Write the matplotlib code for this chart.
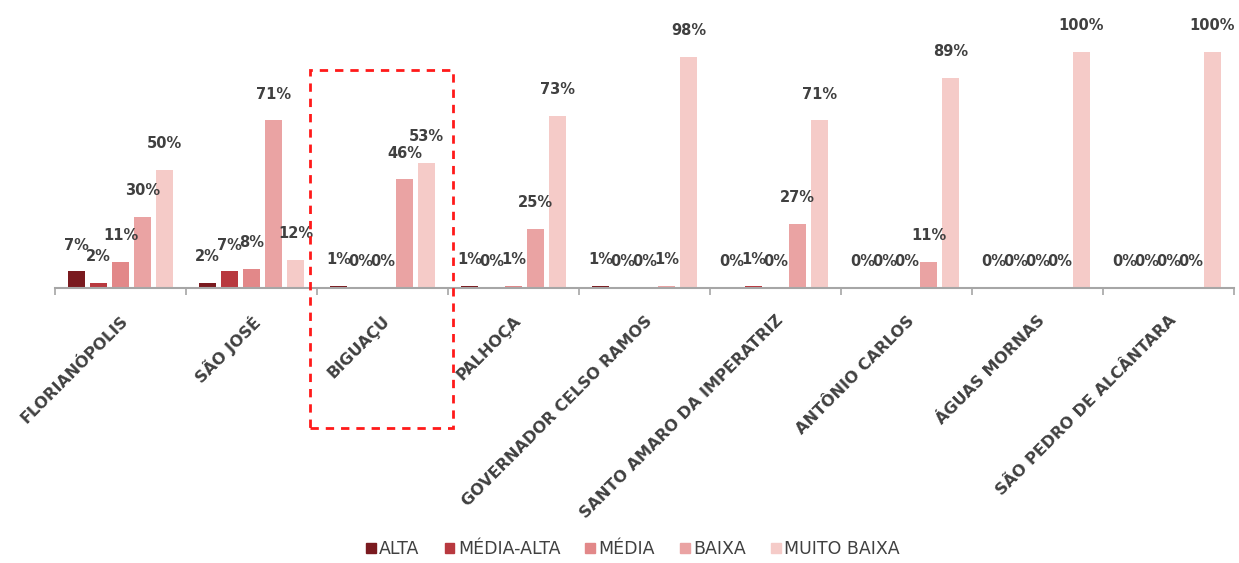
import matplotlib
matplotlib.use("Agg")
import matplotlib.pyplot as plt
import numpy as np
from matplotlib.patches import Rectangle

categories = ["FLORIANÓPOLIS", "SÃO JOSÉ", "BIGUAÇU", "PALHOÇA",
              "GOVERNADOR CELSO RAMOS", "SANTO AMARO DA IMPERATRIZ",
              "ANTÔNIO CARLOS", "ÁGUAS MORNAS", "SÃO PEDRO DE ALCÂNTARA"]
series_names = ["ALTA", "MÉDIA-ALTA", "MÉDIA", "BAIXA", "MUITO BAIXA"]
alta        = [7, 2, 1, 1, 1, 0, 0, 0, 0]
media_alta  = [2, 7, 0, 0, 0, 1, 0, 0, 0]
media       = [11, 8, 0, 1, 0, 0, 0, 0, 0]
baixa       = [30, 71, 46, 25, 1, 27, 11, 0, 0]
muito_baixa = [50, 12, 53, 73, 98, 71, 89, 100, 100]
series_values = [alta, media_alta, media, baixa, muito_baixa]
colors = ["#7a1a1f", "#b8393f", "#e28889", "#eaa3a3", "#f5cbc8"]

plt.rcParams['font.family'] = ['DejaVu Sans']

fig = plt.figure(figsize=(12.39, 5.63), dpi=100)
ax = fig.add_axes([55/1239, 1 - 288/563, (1234-55)/1239, 0.4611])

n = len(categories)
x = np.arange(n)
width = 0.13
step = 0.168
for i, (name, vals, col) in enumerate(zip(series_names, series_values, colors)):
    pos = x + (i - 2) * step
    ax.bar(pos, vals, width=width, color=col, label=name, zorder=2)
    for px, v in zip(pos, vals):
        ax.annotate(f"{v}%", (px, v), xytext=(0, 19), textcoords="offset points",
                    ha="center", va="center", fontsize=10.5, fontweight="bold",
                    color="#404040")

ax.set_xlim(-0.5, n - 0.5)
ax.set_ylim(0, 110)
ax.set_yticks([])
for s in ["left", "right", "top"]:
    ax.spines[s].set_visible(False)
ax.spines["bottom"].set_color("#a6a6a6")
ax.spines["bottom"].set_linewidth(1.5)

ax.set_xticks(x)
ax.set_xticklabels(categories, rotation=45, ha="right", rotation_mode="anchor",
                   fontsize=11.5, fontweight="bold", color="#404040")
ax.tick_params(axis="x", which="major", length=0, pad=18)
ax.set_xticks(np.arange(-0.5, n, 1.0), minor=True)
ax.tick_params(axis="x", which="minor", length=5, color="#a6a6a6", width=1.2)

handles = [Rectangle((0, 0), 1, 1, color=c) for c in colors]
fig.legend(handles, series_names, loc="center", bbox_to_anchor=(633/1239, 1 - 549/563),
           ncol=5, frameon=False, fontsize=12.5, handlelength=0.55, handleheight=0.55,
           columnspacing=1.45, handletextpad=0.2, labelcolor="#404040")

rect = Rectangle((310/1239, 1 - 428/563), (453-310)/1239, (428-70)/563,
                 transform=fig.transFigure, fill=False, edgecolor="#ff1a1a",
                 linestyle=(0, (3, 2.5)), linewidth=2, zorder=10)
fig.patches.append(rect)

fig.savefig("out.png", dpi=100)
